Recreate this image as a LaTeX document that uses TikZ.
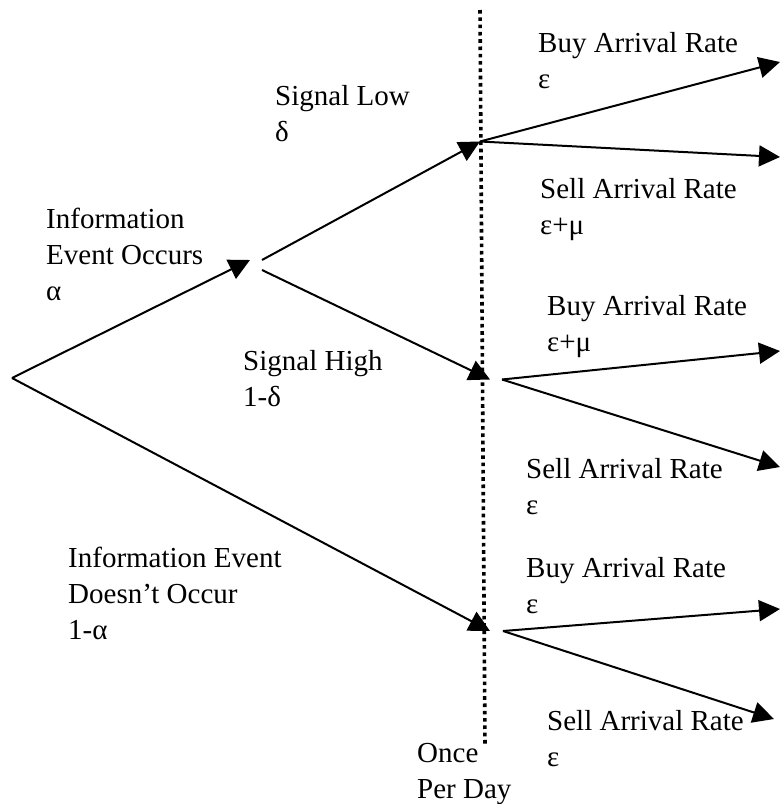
\documentclass[tikz,border=0pt]{standalone}
\usepackage{fontspec}
\setmainfont{Liberation Serif}
\usetikzlibrary{arrows.meta}

\begin{document}
\begin{tikzpicture}[x=1pt, y=-1pt,
		arrowed/.style={line width=2pt, -{Triangle[length=21pt, width=21pt]}},
		gap/.style={inner sep=0pt, outer sep=0pt, minimum height=0pt},
		lbl/.style={anchor=north west, inner sep=0pt, align=left, font=\fontsize{29}{36}\selectfont}]
			\useasboundingbox (0,0) rectangle (781,804);

			% Decision points of the tree
			\coordinate (root) at (12,378);
			\node[gap, minimum width=12pt, minimum height=10pt] (event) at (256,265) {};
			\coordinate (low) at (480,141.5);
			\node[gap, minimum width=12pt] (high) at (496,379.5) {};
			\node[gap, minimum width=13pt] (none) at (496.5,631) {};

			% Arrival rate end points
			\coordinate (lowBuy) at (780,62);
			\coordinate (lowSell) at (780,157);
			\coordinate (highBuy) at (780,351);
			\coordinate (highSell) at (780,467);
			\coordinate (noneBuy) at (780,609);
			\coordinate (noneSell) at (774,719);

			% Once per day line
			\coordinate (dayTop) at (480,10);
			\coordinate (dayBot) at (485,747);
			\draw[line width=3.6pt, dash pattern=on 3.6pt off 3.7pt] (dayTop) -- (dayBot);

			% Branches
			\draw[arrowed] (root) -- (event.north west);
			\draw[arrowed] (root) -- (none.west);
			\draw[arrowed] (event.north east) -- (low);
			\draw[arrowed] (event.south east) -- (high.west);
			\foreach \from/\to in {low/lowBuy, low/lowSell, high.east/highBuy, high.east/highSell, none.east/noneBuy, none.east/noneSell} {
					\draw[arrowed] (\from) -- (\to);
				}

			% Labels
			\node[lbl] (evtLbl) at (46,208) {Information\\Event Occurs\\α};
			\node[lbl] (noneLbl) at (68,547) {Information Event\\Doesn’t Occur\\1-α};
			\node[lbl] (lowLbl) at (275,85) {Signal Low\\δ};
			\node[lbl] (highLbl) at (243,350) {Signal High\\1-δ};
			\node[lbl] (lowBuyLbl) at (538,32) {Buy Arrival Rate\\ε};
			\node[lbl] (lowSellLbl) at (540,178) {Sell Arrival Rate\\ε+μ};
			\node[lbl] (highBuyLbl) at (547,295) {Buy Arrival Rate\\ε+μ};
			\node[lbl] (highSellLbl) at (526,458) {Sell Arrival Rate\\ε};
			\node[lbl] (noneBuyLbl) at (526,557) {Buy Arrival Rate\\ε};
			\node[lbl] (noneSellLbl) at (547,710) {Sell Arrival Rate\\ε};
			\node[lbl] (dayLbl) at (417,743) {Once\\Per Day};
		\end{tikzpicture}
\end{document}
